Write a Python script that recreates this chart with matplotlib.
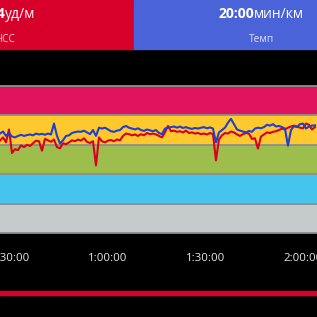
import matplotlib.pyplot as plt
from matplotlib.patches import Rectangle
import numpy as np

plt.rcParams['font.family'] = ['Open Sans', 'DejaVu Sans']

# zone bands (bottom to top), values in zone units
zone_colors = ['#C5CBCB', '#45C4EE', '#9DBE4C', '#FFC92E', '#E2135E']

# samples every ~0.92 min
t_start = 26.77
t_step = 0.923
pace = [3.38, 3.45, 3.30, 3.40, 3.28, 3.25, 3.30, 3.34, 3.30, 3.33,
        3.35, 3.32, 3.38, 3.35, 3.37, 3.34, 3.38, 3.35, 3.72, 3.30,
        3.04, 3.15, 3.30, 3.32, 3.40, 3.43, 3.45, 3.44, 3.48, 3.42,
        3.36, 3.50, 3.30, 3.58, 3.55, 3.58, 3.52, 3.46, 3.44, 3.48,
        3.50, 3.60, 3.64, 3.58, 3.55, 3.52, 3.56, 3.50, 3.47, 3.52,
        3.49, 3.46, 3.50, 3.40, 3.36, 3.55, 3.58, 3.60, 3.62, 3.58,
        3.62, 3.57, 3.60, 3.56, 3.54, 3.57, 3.55, 3.58, 3.60, 3.56,
        3.59, 3.55, 3.08, 3.42, 3.50, 3.58, 3.75, 3.88, 3.70, 3.52,
        3.48, 3.45, 3.42, 3.47, 3.44, 3.55, 3.58, 3.56, 3.60, 3.68,
        3.65, 3.70, 3.62, 3.64, 3.60, 3.55, 2.97, 3.50, 3.63, 3.60,
        3.70, 3.72, 3.55, 3.62, 3.65, 3.66]
heart = [3.14, 3.25, 3.08, 3.52, 2.72, 2.85, 2.82, 2.98, 2.92, 3.00,
         2.96, 3.05, 3.14, 3.12, 2.80, 3.20, 3.15, 3.10, 3.18, 2.92,
         2.88, 3.05, 3.02, 3.08, 3.15, 3.12, 3.18, 3.14, 3.22, 3.10,
         3.06, 3.12, 2.30, 3.25, 3.12, 3.08, 3.14, 3.16, 3.12, 3.18,
         3.15, 3.30, 3.38, 3.36, 3.32, 3.35, 3.30, 3.36, 3.32, 3.40,
         3.36, 3.38, 3.35, 3.30, 3.25, 3.42, 3.64, 3.46, 3.48, 3.44,
         3.46, 3.42, 3.48, 3.40, 3.42, 3.38, 3.40, 3.36, 3.38, 3.35,
         3.40, 3.36, 2.47, 3.18, 3.32, 3.40, 3.38, 3.45, 3.42, 3.35,
         3.30, 3.36, 3.40, 3.38, 3.20, 3.22, 2.87, 3.28, 3.35, 3.42,
         3.40, 3.44, 3.46, 3.50, 3.55, 3.52, 3.58, 3.62, 3.65, 3.62,
         3.58, 3.56, 3.72, 3.68, 3.52, 3.60]
tick_minutes = [30, 60, 90, 120]
tick_labels = ['0:30:00', '1:00:00', '1:30:00', '2:00:00']

t = t_start + np.arange(len(pace)) * t_step

W, H = 317, 317
fig = plt.figure(figsize=(W / 100, H / 100), dpi=100, facecolor='black')

# header panels
fig.patches.append(Rectangle((0, 1 - 49 / H), 134 / W, 49 / H, transform=fig.transFigure,
                             color='#D7002A', zorder=0))
fig.patches.append(Rectangle((134 / W, 1 - 49 / H), 1, 49 / H, transform=fig.transFigure,
                             color='#4B63D8', zorder=0))
fig.text(5 / W, 1 - 18.5 / H, '144', ha='right', va='baseline', color='white',
         fontsize=10, fontweight='bold')
fig.text(5 / W, 1 - 18.5 / H, 'уд/м', ha='left', va='baseline', color='white', fontsize=10)
fig.text(15.5 / W, 1 - 41.7 / H, 'ЧСС', ha='right', va='baseline', color='#F4D0D6', fontsize=7.3)
fig.text(254 / W, 1 - 18.5 / H, '20:00', ha='right', va='baseline', color='white',
         fontsize=10, fontweight='bold')
fig.text(254 / W, 1 - 18.5 / H, 'мин/км', ha='left', va='baseline', color='white', fontsize=10)
fig.text(262 / W, 1 - 41.7 / H, 'Темп', ha='center', va='baseline', color='#DCE1F7', fontsize=7.3)

# bottom red bar
fig.patches.append(Rectangle((0, 1 - 295 / H), 1, 4 / H, transform=fig.transFigure,
                             color='#D7002A', zorder=0))

ax = fig.add_axes([0, 1 - 234 / H, 1, 149 / H])
ax.set_facecolor('black')
for i, c in enumerate(zone_colors):
    ax.axhspan(i, i + 1, color=c, lw=0, zorder=0)
for i in range(6):
    ax.axhline(i, color='#8E8E8E', lw=1.3, zorder=1)

ax.plot(t, heart, color='#D8001E', lw=1.5, zorder=2)
ax.plot(t, pace, color='#1E3FD0', lw=1.5, zorder=3)

ax.set_xlim(t_start, t_start + 317 * 0.3077)
ax.set_ylim(-0.03, 5.03)
ax.set_xticks(tick_minutes)
ax.set_xticklabels(tick_labels)
ax.set_yticks([])
ax.tick_params(axis='x', length=0, pad=13.5, labelsize=8.2, labelcolor='#E8E8E8')
for s in ax.spines.values():
    s.set_visible(False)

fig.savefig('out.png', dpi=100, facecolor='black')
